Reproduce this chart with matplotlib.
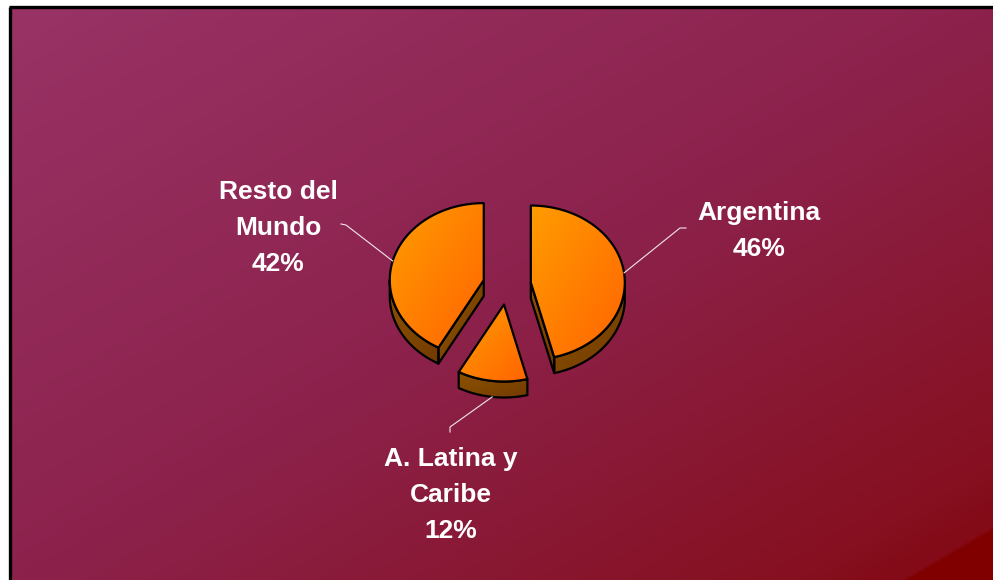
import numpy as np
import matplotlib.pyplot as plt
from matplotlib.patches import Polygon
from matplotlib.colors import LinearSegmentedColormap

# Datos
etiquetas = ["Argentina", "A. Latina y\nCaribe", "Resto del\nMundo"]
porcentajes = [46, 12, 42]

# Disposicion en pixeles
W, H = 993, 580
cx, cy = 507, 285
rx, ry = 94, 77
prof = 16
sep = 24
pos_texto = [(759, 231), (451, 495), (278, 228)]
codos = [((680, 228), (686, 228)), ((450, 427), (450, 432)), ((346, 225), (341, 224))]

fig = plt.figure(figsize=(W / 100, H / 100), dpi=100)
fig.patch.set_facecolor("white")
ax = fig.add_axes([0, 0, 1, 1])
ax.set_xlim(0, W)
ax.set_ylim(H, 0)
ax.axis("off")

# Fondo degradado
yy, xx = np.mgrid[0:H, 0:W]
t = (xx / W + yy / H) / 2
stops = [0.0, 0.5, 0.9, 0.953, 0.956, 1.0]
r = np.interp(t, stops, [153, 140, 134, 131, 128, 128])
g = np.interp(t, stops, [51, 34, 16, 10, 0, 0])
b = np.interp(t, stops, [102, 76, 32, 22, 0, 0])
fondo = np.dstack([r, g, b]) / 255
ax.imshow(fondo, extent=(11, W, H, 7.5), aspect="auto", zorder=0, interpolation="bilinear")
ax.plot([10, 10], [H, 6.5], color="black", lw=2.4, solid_capstyle="butt", zorder=1)
ax.plot([8.5, W], [6.5, 6.5], color="black", lw=2.4, solid_capstyle="butt", zorder=1)


def relleno(puntos, c0, c1, z):
    pts = np.array(puntos)
    x0, y0 = pts.min(0)
    x1, y1 = pts.max(0)
    n = 64
    grad = np.add.outer(np.linspace(0, 1, n), np.linspace(0, 1, n)) / 2
    cmap = LinearSegmentedColormap.from_list("g", [c0, c1])
    im = ax.imshow(grad, cmap=cmap, vmin=0, vmax=1, extent=(x0, x1, y1, y0),
                   aspect="auto", zorder=z, interpolation="bilinear")
    parche = Polygon(pts, closed=True, facecolor="none", edgecolor="black",
                     lw=1.6, zorder=z + 0.1, joinstyle="round")
    ax.add_patch(parche)
    im.set_clip_path(parche)


total = sum(porcentajes)
ang = 0.0
for i, p in enumerate(porcentajes):
    a1 = ang
    a2 = ang + 2 * np.pi * p / total
    ang = a2
    mid = (a1 + a2) / 2
    ox = cx + sep * np.sin(mid)
    oy = cy - sep * np.cos(mid) * ry / rx

    def pt(th, dz=0):
        return (ox + rx * np.sin(th), oy - ry * np.cos(th) + dz)

    # caras laterales visibles
    lo, hi = max(a1, np.pi / 2), min(a2, 3 * np.pi / 2)
    if lo < hi:
        th = np.linspace(lo, hi, 60)
        borde = [pt(a) for a in th] + [pt(a, prof) for a in th[::-1]]
        relleno(borde, "#8C5300", "#733A00", 3)
    if -np.sin(a1) > 1e-6:
        relleno([(ox, oy), pt(a1), pt(a1, prof), (ox, oy + prof)], "#8C5300", "#733A00", 3)
    if np.sin(a2) > 1e-6:
        relleno([(ox, oy), pt(a2), pt(a2, prof), (ox, oy + prof)], "#8C5300", "#733A00", 3)

    # cara superior
    th = np.linspace(a1, a2, 120)
    relleno([(ox, oy)] + [pt(a) for a in th], "#FF9C00", "#FF6400", 4)

    # linea guia
    ancla = pt(mid, prof if np.cos(mid) < 0 else 0)
    (ex, ey), (fx, fy) = codos[i]
    ax.plot([ancla[0], ex, fx], [ancla[1], ey, fy], color="#F2E6EC", lw=0.8, zorder=5)

    tx, ty = pos_texto[i]
    ax.text(tx, ty, f"{etiquetas[i]}\n{p}%", ha="center", va="center",
            fontsize=19, fontweight="bold", color="white",
            family=["Liberation Sans", "DejaVu Sans"], linespacing=1.63, zorder=6)

ax.set_xlim(0, W)
ax.set_ylim(H, 0)
fig.savefig("out.png", dpi=100)
